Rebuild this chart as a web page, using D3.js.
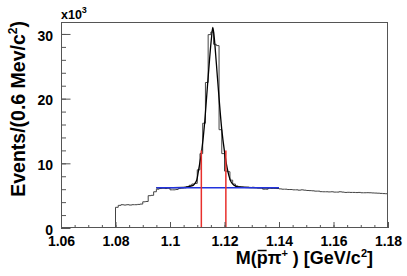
<!doctype html>
<html>
<head>
<meta charset="UTF-8">
<script src="https://d3js.org/d3.v7.min.js"></script>
<style>
  body { margin: 0; background: #fff; }
  svg text { font-family: "Liberation Sans", Arial, sans-serif; font-weight: bold; fill: #000; }
</style>
</head>
<body>
<svg id="chart"></svg>
<script>
// histogram: 1 MeV bins starting at 1.080 GeV, counts in units of 10^3
const binStart = 1.080;
const binWidth = 0.001;
const counts = [
  3.2, 3.5, 3.6, 3.55, 3.6, 3.55, 3.6, 3.6, 3.65, 3.7,
  4.05, 4.1, 5.0, 5.05, 5.6, 6.0, 6.1, 6.15, 6.1, 6.15,
  5.9, 5.9, 5.95, 6.1, 6.15, 6.2, 6.4, 6.6, 6.8, 6.9,
  9.0, 11.5, 16.2, 22.5, 29.9, 30.3, 28.4, 28.2, 15.2, 11.5,
  8.8, 8.7, 7.4, 6.8, 6.5, 6.4, 6.35, 6.3, 6.3, 6.25,
  6.3, 6.25, 6.2, 6.2, 6.0, 6.0, 6.2, 6.15, 6.15, 6.1,
  6.05, 6.0, 6.0, 5.95, 5.95, 5.9, 5.9, 5.85, 5.9, 5.85,
  5.8, 5.78, 5.75, 5.7, 5.7, 5.62, 5.6, 5.6, 5.58, 5.6,
  5.55, 5.55, 5.6, 5.55, 5.5, 5.52, 5.5, 5.5, 5.48, 5.5,
  5.45, 5.45, 5.46, 5.45, 5.42, 5.4, 5.38, 5.35, 5.32, 5.3
];

// fit curve
const fitMass   = [1.095, 1.100, 1.105, 1.108, 1.1098, 1.1105, 1.1116, 1.1127, 1.1135, 1.1145, 1.1152, 1.1157,
                   1.1162, 1.1170, 1.1179, 1.1190, 1.1200, 1.1210, 1.1221, 1.1235, 1.125, 1.130, 1.140];
const fitCounts = [6.22, 6.24, 6.28, 6.5, 7.4, 9.0, 11.8, 16.2, 20.6, 26.0, 29.3, 31.0,
                   29.6, 25.5, 20.6, 15.2, 11.8, 9.2, 7.4, 6.6, 6.35, 6.25, 6.2];

// background level (blue) and signal window (red)
const bkgRange = [1.095, 1.14];
const bkgLevel = 6.23;
const windowEdges = [1.1115, 1.1205];
const windowHeight = 12.0;

const xTicks = [1.06, 1.08, 1.10, 1.12, 1.14, 1.16, 1.18];
const yTicks = [0, 10, 20, 30];

const W = 407, H = 276;
const margin = {top: 22, right: 19, bottom: 48, left: 61};
const width = W - margin.left - margin.right;
const height = H - margin.top - margin.bottom;

const svg = d3.select("#chart").attr("width", W).attr("height", H);
const g = svg.append("g").attr("transform", "translate(" + margin.left + "," + margin.top + ")");

const x = d3.scaleLinear().domain([1.06, 1.18]).range([0, width]);
const y = d3.scaleLinear().domain([0, 31.85]).range([height, 0]);

// histogram outline
let pts = [[x(binStart), y(0)]];
counts.forEach(function(c, i) {
  const x0 = x(binStart + i * binWidth), x1 = x(binStart + (i + 1) * binWidth);
  pts.push([x0, y(c)], [x1, y(c)]);
});
g.append("path")
  .attr("d", d3.line()(pts))
  .attr("fill", "none")
  .attr("stroke", "#444")
  .attr("stroke-width", 1);

// fit
g.append("path")
  .datum(d3.zip(fitMass, fitCounts))
  .attr("d", d3.line().x(d => x(d[0])).y(d => y(d[1])).curve(d3.curveMonotoneX))
  .attr("fill", "none")
  .attr("stroke", "#000")
  .attr("stroke-width", 1.3);

// background line
g.append("line")
  .attr("x1", x(bkgRange[0])).attr("x2", x(bkgRange[1]))
  .attr("y1", y(bkgLevel)).attr("y2", y(bkgLevel))
  .attr("stroke", "#2233dd").attr("stroke-width", 1.6);

// window lines
g.selectAll(".win")
  .data(windowEdges)
  .enter().append("line")
  .attr("class", "win")
  .attr("x1", d => x(d)).attr("x2", d => x(d))
  .attr("y1", y(0)).attr("y2", y(windowHeight))
  .attr("stroke", "#e8302c").attr("stroke-width", 1.5);

// axes with inward ticks
function styleAxis(sel) {
  sel.select(".domain").remove();
  sel.selectAll("line").attr("stroke", "#555");
  sel.selectAll("text").style("font-size", "14px").style("font-family", null);
}

g.append("g")
  .attr("transform", "translate(0," + height + ")")
  .call(d3.axisBottom(x).tickValues(d3.range(1.06, 1.1801, 0.005)).tickFormat("").tickSize(-3))
  .call(styleAxis);
g.append("g")
  .attr("transform", "translate(0," + height + ")")
  .call(d3.axisBottom(x).tickValues(xTicks).tickFormat(d => +d.toFixed(2) + "").tickSize(-6).tickPadding(8.5))
  .call(styleAxis);

g.append("g")
  .call(d3.axisLeft(y).tickValues(d3.range(0, 32, 2)).tickFormat("").tickSize(-5))
  .call(styleAxis);
g.append("g")
  .call(d3.axisLeft(y).tickValues(yTicks).tickFormat(d3.format("d")).tickSize(-9.5).tickPadding(8))
  .call(styleAxis)
  .selectAll("text").attr("dy", "0.45em");

// frame
g.append("rect")
  .attr("x", 0.5).attr("y", 0.5)
  .attr("width", width - 1).attr("height", height - 1)
  .attr("fill", "none").attr("stroke", "#555").attr("stroke-width", 1);

// exponent label
const ex = svg.append("text").attr("x", margin.left).attr("y", 18.5).style("font-size", "12.5px");
ex.append("tspan").text("x10");
ex.append("tspan").attr("dy", -6).style("font-size", "9px").text("3");

// y title
const yt = svg.append("text")
  .attr("transform", "translate(24.5," + (margin.top - 1) + ") rotate(-90)")
  .attr("text-anchor", "end")
  .style("font-size", "19.5px");
yt.append("tspan").text("Events/(0.6 Mev/c");
yt.append("tspan").attr("dy", -8).style("font-size", "12px").text("2");
yt.append("tspan").attr("dy", 8).text(")");

// x title
const xt = svg.append("text")
  .attr("x", 373).attr("y", 264)
  .attr("text-anchor", "end")
  .style("font-size", "18px");
xt.append("tspan").text("M(p");
xt.append("tspan").text("\u03c0");
xt.append("tspan").attr("dy", -7).style("font-size", "11px").text("+");
xt.append("tspan").attr("dy", 7).text(" ) [GeV/c");
xt.append("tspan").attr("dy", -7).style("font-size", "11px").text("2");
xt.append("tspan").attr("dy", 7).text("]");

// overline on the antiproton "p" (character index 2)
const pBox = xt.node().getExtentOfChar(2);
svg.append("line")
  .attr("x1", pBox.x + 1).attr("x2", pBox.x + pBox.width - 1)
  .attr("y1", 250.5).attr("y2", 250.5)
  .attr("stroke", "#000").attr("stroke-width", 1.5);
</script>
</body>
</html>
